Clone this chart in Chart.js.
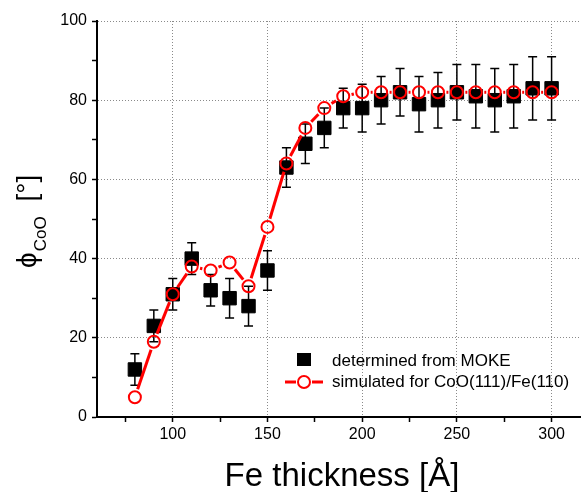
<!DOCTYPE html>
<html>
<head>
<meta charset="utf-8">
<script src="https://cdn.jsdelivr.net/npm/chart.js@4/dist/chart.umd.min.js"></script>
<style>
  html, body { margin: 0; padding: 0; background: #fff; }
  #wrap { width: 582px; height: 492px; }
</style>
</head>
<body>
<div id="wrap"><canvas id="c" width="582" height="492"></canvas></div>
<script>
// ---- data ----
const thickness = [80, 90, 100, 110, 120, 130, 140, 150, 160, 170, 180, 190, 200, 210, 220, 230, 240, 250, 260, 270, 280, 290, 300];
const mokePhi   = [12, 23, 31, 40, 32, 30, 28, 37, 63, 69, 73, 78, 78, 80, 82, 79, 80, 82, 81, 80, 81, 83, 83];
const mokeErr   = [4, 4, 4, 4, 4, 5, 5, 5, 5, 5, 5, 5, 6, 6, 6, 7, 7, 7, 8, 8, 8, 8, 8];
const simPhi    = [5, 19, 31, 38, 37, 39, 33, 48, 64, 73, 78, 81, 82, 82, 82, 82, 82, 82, 82, 82, 82, 82, 82];
const seriesLabels = ['determined from MOKE', 'simulated for CoO(111)/Fe(110)'];
const xTicks = [75, 100, 125, 150, 175, 200, 225, 250, 275, 300];
const yTicks = [0, 10, 20, 30, 40, 50, 60, 70, 80, 90, 100];
const xTitle = 'Fe thickness [Å]';
const yTitleMain = 'ϕ', yTitleSub = 'CoO', yTitleTail = ' [°]';

const FONT = "'Liberation Sans', Arial, sans-serif";

const overlay = {
  id: 'overlay',
  beforeDatasetDraw(chart, args) {
    if (args.index !== 0) return;
    const ctx = chart.ctx, xs = chart.scales.x, ys = chart.scales.y;
    ctx.save();
    ctx.strokeStyle = '#000';
    ctx.lineWidth = 1.5;
    thickness.forEach((t, i) => {
      const x = xs.getPixelForValue(t);
      const y1 = ys.getPixelForValue(mokePhi[i] + mokeErr[i]);
      const y2 = ys.getPixelForValue(mokePhi[i] - mokeErr[i]);
      ctx.beginPath();
      ctx.moveTo(x, y1); ctx.lineTo(x, y2);
      ctx.moveTo(x - 4.5, y1); ctx.lineTo(x + 4.5, y1);
      ctx.moveTo(x - 4.5, y2); ctx.lineTo(x + 4.5, y2);
      ctx.stroke();
    });
    ctx.restore();
  },
  afterDatasetDraw(chart, args) {
    if (args.index !== 0) return;
    const ctx = chart.ctx;
    const pts = chart.getDatasetMeta(1).data;
    const gap = 8.5;
    ctx.save();
    ctx.strokeStyle = '#ff0000';
    ctx.lineWidth = 3;
    for (let i = 0; i < pts.length - 1; i++) {
      const p = pts[i], q = pts[i + 1];
      const dx = q.x - p.x, dy = q.y - p.y;
      const len = Math.hypot(dx, dy);
      if (len <= 2 * gap) continue;
      const ux = dx / len, uy = dy / len;
      ctx.beginPath();
      ctx.moveTo(p.x + ux * gap, p.y + uy * gap);
      ctx.lineTo(q.x - ux * gap, q.y - uy * gap);
      ctx.stroke();
    }
    ctx.restore();
  },
  afterDraw(chart) {
    const ctx = chart.ctx;
    ctx.save();
    ctx.fillStyle = '#000';
    // x title
    ctx.font = '33px ' + FONT;
    ctx.textAlign = 'center';
    ctx.textBaseline = 'alphabetic';
    ctx.fillText(xTitle, 342, 486);
    // y title (rotated, with subscript)
    ctx.translate(36, 268);
    ctx.rotate(-Math.PI / 2);
    ctx.textAlign = 'left';
    ctx.font = '28px ' + FONT;
    ctx.fillText(yTitleMain, 0, 0);
    let w = ctx.measureText(yTitleMain).width;
    ctx.font = '17px ' + FONT;
    ctx.fillText(yTitleSub, w + 1, 10);
    w += 1 + ctx.measureText(yTitleSub).width + 7;
    ctx.font = '28px ' + FONT;
    ctx.fillText(yTitleTail, w, 0);
    ctx.restore();

    // legend
    ctx.save();
    ctx.fillStyle = '#000';
    ctx.fillRect(297, 353, 14, 13);
    ctx.strokeStyle = '#ff0000';
    ctx.lineWidth = 3;
    ctx.beginPath();
    ctx.moveTo(285, 382); ctx.lineTo(296, 382);
    ctx.moveTo(312, 382); ctx.lineTo(323, 382);
    ctx.stroke();
    ctx.lineWidth = 2;
    ctx.beginPath();
    ctx.arc(304, 382, 6, 0, Math.PI * 2);
    ctx.stroke();
    ctx.fillStyle = '#000';
    ctx.font = '17px ' + FONT;
    ctx.textAlign = 'left';
    ctx.textBaseline = 'alphabetic';
    ctx.fillText(seriesLabels[0], 332, 366);
    ctx.fillText(seriesLabels[1], 332, 387);
    ctx.restore();
  }
};

const gridGray = '#8a8a8a';

new Chart(document.getElementById('c'), {
  type: 'scatter',
  data: {
    datasets: [
      {
        label: seriesLabels[0],
        data: thickness.map((t, i) => ({ x: t, y: mokePhi[i] })),
        pointStyle: 'rect',
        pointRadius: 9.5,
        backgroundColor: '#000',
        borderColor: '#000',
        borderWidth: 1,
        showLine: false,
        order: 2
      },
      {
        label: seriesLabels[1],
        data: thickness.map((t, i) => ({ x: t, y: simPhi[i] })),
        pointStyle: 'circle',
        pointRadius: 6,
        backgroundColor: 'rgba(0,0,0,0)',
        borderColor: '#ff0000',
        borderWidth: 2,
        showLine: false,
        order: 1
      }
    ]
  },
  options: {
    responsive: false,
    animation: false,
    devicePixelRatio: 1,
    events: [],
    layout: { autoPadding: false, padding: { left: 0, top: 21, right: 2, bottom: 0 } },
    plugins: { legend: { display: false }, tooltip: { enabled: false } },
    scales: {
      x: {
        type: 'linear',
        min: 60, max: 315,
        afterBuildTicks: (s) => { s.ticks = xTicks.map(v => ({ value: v })); },
        afterFit: (s) => { s.height = 75; s.paddingLeft = 0; s.paddingRight = 0; },
        grid: {
          color: (c) => (c.tick && c.tick.value % 50 === 0) ? gridGray : 'rgba(0,0,0,0)',
          lineWidth: 1,
          drawTicks: true,
          tickLength: 5,
          tickColor: '#000',
          tickWidth: 1.5
        },
        border: { display: true, color: '#000', width: 2, dash: [1, 2] },
        ticks: {
          autoSkip: false, maxRotation: 0, padding: 3,
          color: '#000',
          font: { family: FONT, size: 16 },
          callback: (v) => (v % 50 === 0 ? String(v) : '')
        }
      },
      y: {
        type: 'linear',
        min: 0, max: 100,
        afterBuildTicks: (s) => { s.ticks = yTicks.map(v => ({ value: v })); },
        afterFit: (s) => { s.width = 97; s.paddingTop = 0; s.paddingBottom = 0; },
        grid: {
          color: (c) => (c.tick && c.tick.value % 20 === 0 && c.tick.value > 0) ? gridGray : 'rgba(0,0,0,0)',
          lineWidth: 1,
          drawTicks: true,
          tickLength: 5,
          tickColor: '#000',
          tickWidth: 1.5
        },
        border: { display: true, color: '#000', width: 2, dash: [1, 2] },
        ticks: {
          autoSkip: false, padding: 5,
          color: '#000',
          font: { family: FONT, size: 16 },
          callback: (v) => (v % 20 === 0 ? String(v) : '')
        }
      }
    }
  },
  plugins: [overlay]
});
</script>
</body>
</html>
